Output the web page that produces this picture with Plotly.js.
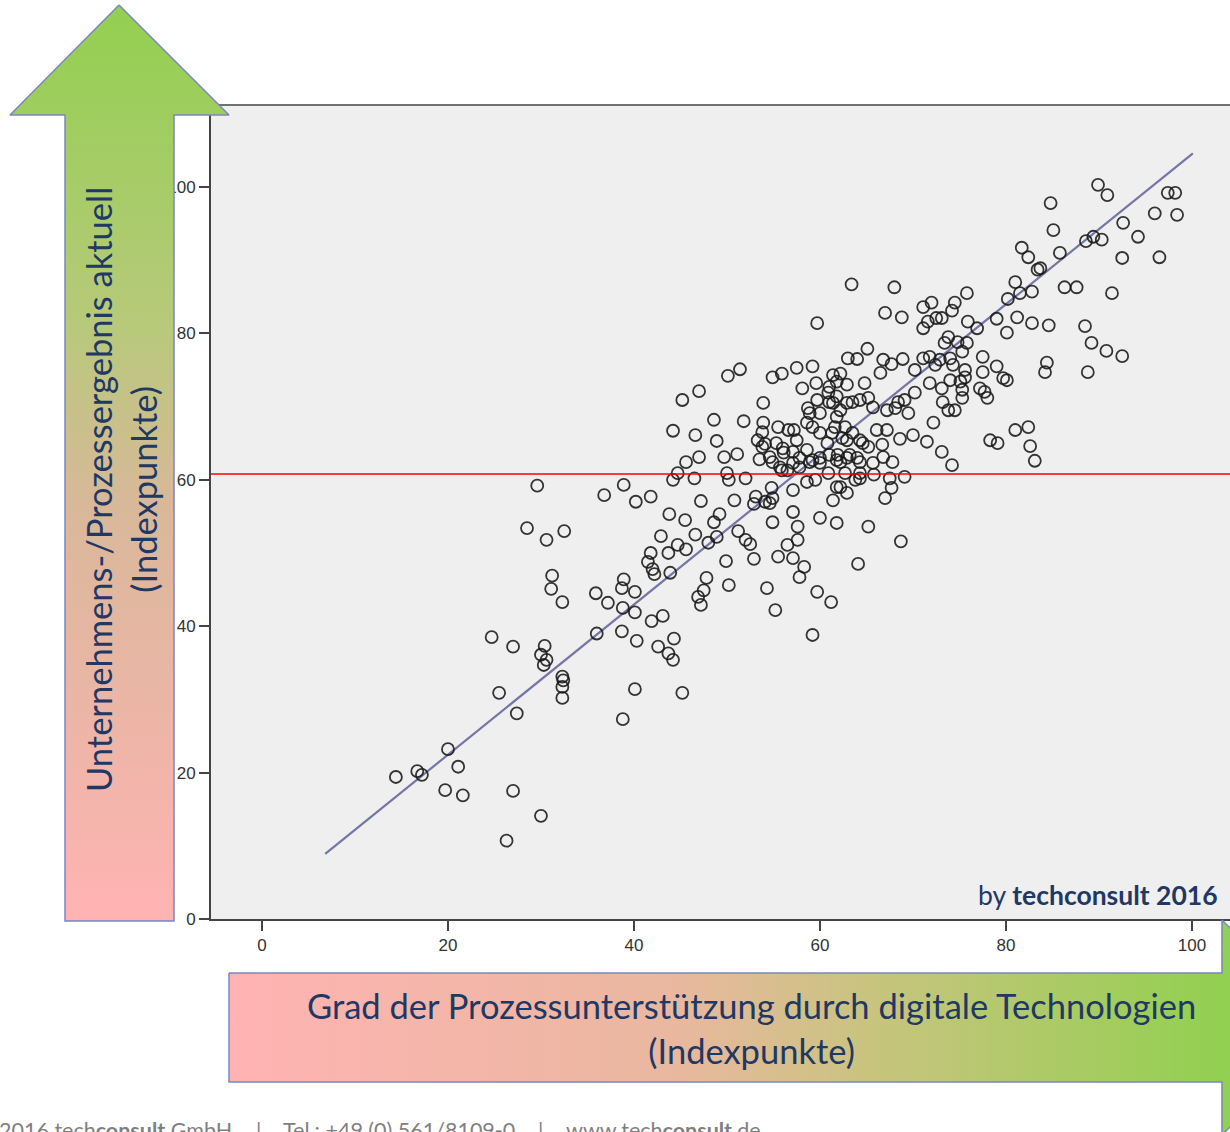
<!DOCTYPE html>
<html><head><meta charset="utf-8">
<script src="https://cdn.plot.ly/plotly-3.0.1.min.js"></script>
<style>html,body{margin:0;padding:0;background:#fff;overflow:hidden}#chart{width:1230px;height:1132px}</style>
</head><body><div id="chart"></div>
<script>
// ---- data (Indexpunkte) ----
const prozessX = [14.4,16.7,17.2,20.0,21.1,19.7,21.6,27.0,30.0,26.3,24.7,27.0,25.5,27.4,30.4,30.0,30.6,30.3,32.3,32.4,32.3,32.3,29.6,28.5,30.6,32.5,31.2,31.1,32.3,36.0,35.9,37.2,36.8,38.9,40.2,41.8,38.9,38.7,40.1,38.8,40.1,41.9,43.1,38.7,40.3,42.6,43.7,44.2,44.3,40.1,45.2,38.8,42.9,43.8,45.5,41.5,41.8,42.0,42.2,43.9,43.7,44.7,45.6,46.6,
51.4,50.1,47.0,45.2,53.9,48.6,51.8,44.2,46.6,48.9,53.9,53.8,53.3,54.1,53.5,51.1,49.7,47.0,45.6,44.7,44.2,46.5,50.0,50.2,52.0,47.2,50.8,53.1,52.9,49.2,48.6,48.0,48.9,51.2,52.0,52.5,52.9,49.9,47.8,50.2,46.9,47.2,47.5,54.3,
63.4,68.0,59.7,67.0,68.8,71.1,72.0,71.1,71.6,72.5,65.1,63.0,64.0,66.8,67.7,68.9,70.2,71.1,71.8,61.4,62.2,59.2,57.5,55.9,54.9,59.6,58.1,61.0,62.9,64.8,66.5,60.9,61.8,61.4,59.7,58.7,58.9,60.0,62.9,64.3,65.2,65.7,68.1,69.1,69.5,71.8,72.2,71.5,70.0,68.6,67.2,66.7,66.8,65.7,65.2,64.3,63.5,62.7,61.8,61.3,62.9,61.9,60.8,60.0,59.2,58.6,57.5,56.6,55.5,55.3,56.0,56.1,53.8,54.9,56.5,57.1,57.8,58.6,59.2,60.0,60.9,61.8,62.9,64.0,62.7,63.8,61.8,61.4,62.9,64.3,65.8,67.5,69.1,67.7,67.0,55.9,57.1,58.6,59.5,54.8,54.6,57.1,57.6,57.6,56.5,55.5,57.1,58.3,57.8,60.0,61.8,65.2,68.7,64.1,59.7,61.2,55.2,59.2,
61.8,61.0,62.2,63.5,67.2,68.4,57.2,61.6,62.4,64.6,66.1,67.8,64.3,62.2,55.7,54.6,57.1,58.9,60.0,61.0,62.2,63.2,64.3,57.8,54.9,54.1,54.9,
81.0,82.8,83.4,86.3,87.6,80.2,81.5,79.0,81.2,82.8,84.6,80.1,75.8,74.5,74.2,73.1,75.9,76.9,73.8,73.4,74.8,75.8,75.3,74.0,72.9,72.4,74.3,75.6,77.5,79.0,77.5,79.7,80.1,75.6,75.1,74.0,73.1,70.2,75.3,75.3,77.2,77.7,78.0,73.2,73.8,74.5,73.1,74.2,78.3,79.1,81.0,82.4,82.6,83.1,84.4,84.2,
89.9,90.9,84.8,85.1,97.4,98.2,96.0,98.4,92.6,94.2,89.4,90.3,88.6,85.8,81.7,82.4,92.5,96.5,83.7,91.4,88.5,89.2,90.8,92.5,88.8];
const ergebnisY = [19.4,20.2,19.7,23.2,20.8,17.6,16.9,17.5,14.1,10.7,38.5,37.2,30.9,28.1,37.3,36.1,35.4,34.7,33.1,32.6,31.7,30.2,59.2,53.4,51.8,53.0,46.9,45.1,43.3,39.0,44.5,43.2,57.9,59.3,57.0,57.7,46.4,45.2,44.7,42.5,41.9,40.7,41.4,39.3,38.0,37.2,36.3,35.4,38.3,31.4,30.9,27.3,52.3,55.3,54.5,48.8,50.0,47.8,47.1,47.3,50.0,51.1,50.5,52.5,
75.1,74.2,72.1,70.9,70.5,68.2,68.0,66.7,66.1,65.3,67.8,66.5,65.4,64.9,62.8,63.5,63.1,63.1,62.4,60.9,60.0,60.2,60.9,60.0,60.2,57.1,57.2,57.7,56.7,55.3,54.2,51.4,52.2,53.0,51.8,51.2,49.2,48.9,46.6,45.6,44.0,42.9,44.9,45.2,
86.7,86.3,81.4,82.8,82.2,83.6,84.2,80.7,81.6,82.1,77.9,76.6,76.5,76.4,75.8,76.5,75.0,76.6,76.8,74.3,74.5,75.5,75.3,74.5,74.0,73.2,72.5,72.7,73.0,73.2,74.6,71.9,71.4,70.5,70.9,69.8,69.1,69.1,70.5,70.9,71.2,69.9,69.8,70.9,69.1,73.2,67.8,65.2,66.1,65.6,66.8,64.8,63.1,62.3,64.5,65.4,66.4,67.2,68.6,66.4,65.4,63.4,65.0,66.4,67.2,67.8,65.4,66.8,67.2,65.0,64.3,63.7,64.5,62.4,61.3,62.3,63.0,64.1,62.7,62.3,60.9,62.7,63.0,63.0,60.9,60.0,59.0,57.2,58.2,60.9,60.7,60.2,60.4,58.9,57.5,61.3,58.6,59.7,60.0,58.9,56.8,55.6,53.6,51.8,51.1,49.5,49.3,48.1,46.7,54.8,54.1,53.6,51.6,48.5,44.7,43.3,42.2,38.8,
73.4,70.6,69.5,70.6,69.5,70.6,66.8,67.2,65.7,65.0,66.8,62.4,60.2,59.0,61.7,63.1,63.8,62.4,63.0,63.4,62.4,63.4,62.4,61.7,57.5,57.0,54.2,
87.0,85.7,88.7,86.3,86.3,84.7,85.5,82.0,82.2,81.4,81.1,80.1,85.5,84.2,83.1,82.1,81.6,80.7,79.5,78.7,78.8,78.7,77.5,76.6,76.4,75.7,75.7,75.0,76.8,75.5,74.7,73.9,73.6,74.0,73.4,73.6,72.5,71.9,72.3,71.2,72.5,72.0,71.2,70.6,69.5,69.5,63.8,62.0,65.4,65.0,66.8,67.2,64.6,62.6,76.0,74.7,
100.3,98.9,97.8,94.1,99.2,99.2,96.4,96.2,95.1,93.2,93.2,92.8,92.6,91.0,91.7,90.4,90.3,90.4,88.9,85.5,81.0,78.7,77.6,76.9,74.7];
const fitX = [6.8, 100.1];
const fitY = [8.9, 104.6];
const meanY = 60.8;
const tickVals = [0, 20, 40, 60, 80, 100];
const tickText = ['0', '20', '40', '60', '80', '100'];

// ---- page geometry ----
const W = 1230, H = 1132;
const plotL = 211, plotT = 105, plotB = 919;
const navy = '#1f3864';
const tickFont = {family: 'Liberation Sans, Arial, sans-serif', size: 17, color: '#333'};
const footFont = {family: 'Lato, sans-serif', size: 21.5, color: '#808080'};

// decorative arrows drawn on a full-page overlay subplot (page pixel units)
const upArrow = {x: [119, 229, 174, 174, 65, 65, 10, 119], y: [5, 115, 115, 921, 921, 115, 115, 5]};
const rightArrow = {x: [229, 1222, 1222, 1329, 1222, 1222, 229, 229], y: [973, 973, 920, 1027.5, 1135, 1082, 1082, 973]};

const traces = [
  {type: 'scatter', mode: 'lines', x: fitX, y: fitY, xaxis: 'x', yaxis: 'y',
   line: {color: '#7376a6', width: 2.2}, hoverinfo: 'skip'},
  {type: 'scatter', mode: 'markers', x: prozessX, y: ergebnisY, xaxis: 'x', yaxis: 'y',
   marker: {symbol: 'circle-open', size: 12, color: 'rgba(25,25,25,0.88)', line: {width: 1.8}}},
  {type: 'scatter', mode: 'lines', x: upArrow.x, y: upArrow.y, xaxis: 'x2', yaxis: 'y2',
   fill: 'toself', line: {color: '#7b86c2', width: 1.5},
   fillgradient: {type: 'vertical', start: 5, stop: 921, colorscale: [[0, '#92d050'], [0.35, '#b7c97a'], [0.55, '#d9b89a'], [1, '#ffb3b3']]},
   hoverinfo: 'skip'},
  {type: 'scatter', mode: 'lines', x: rightArrow.x, y: rightArrow.y, xaxis: 'x2', yaxis: 'y2',
   fill: 'toself', line: {color: '#7b86c2', width: 1.5},
   fillgradient: {type: 'horizontal', start: 229, stop: 1222, colorscale: [[0, '#ffb3b3'], [0.45, '#e9b89f'], [0.65, '#c8c47e'], [1, '#92d050']]},
   hoverinfo: 'skip'}
];

const layout = {
  width: W, height: H, margin: {l: 0, r: 0, t: 0, b: 0},
  paper_bgcolor: '#ffffff', plot_bgcolor: 'rgba(0,0,0,0)', showlegend: false,
  xaxis: {domain: [plotL / W, 1], range: [-5.48, 104.09], anchor: 'y', tickvals: tickVals, ticktext: tickText,
          ticks: 'outside', ticklen: 10, tickwidth: 2, tickcolor: '#444', showline: true, linecolor: '#444', linewidth: 2,
          showgrid: false, zeroline: false, tickfont: tickFont, fixedrange: true},
  yaxis: {domain: [1 - plotB / H, 1 - plotT / H], range: [0, 111.2], anchor: 'x', tickvals: tickVals, ticktext: tickText,
          ticks: 'outside', ticklen: 10, tickwidth: 2, tickcolor: '#444', showline: true, linecolor: '#444', linewidth: 2,
          showgrid: false, zeroline: false, tickfont: tickFont, fixedrange: true},
  xaxis2: {domain: [0, 1], range: [0, W], visible: false, anchor: 'y2', fixedrange: true},
  yaxis2: {domain: [0, 1], range: [H, 0], visible: false, anchor: 'x2', fixedrange: true},
  shapes: [
    {type: 'rect', xref: 'x domain', yref: 'y domain', x0: 0, x1: 1, y0: 0, y1: 1, layer: 'below',
     fillcolor: '#efefef', line: {width: 0}},
    {type: 'line', xref: 'x domain', yref: 'y domain', x0: 0, x1: 1, y0: 1, y1: 1, layer: 'below',
     line: {color: '#707070', width: 2}},
    {type: 'line', xref: 'x domain', yref: 'y', x0: 0, x1: 1, y0: meanY, y1: meanY, layer: 'above',
     line: {color: '#ff0000', width: 1.5}}
  ],
  annotations: [
    {text: 'Unternehmens-/Prozessergebnis aktuell<br>(Indexpunkte)', textangle: -90, xref: 'paper', yref: 'paper',
     x: 121 / W, y: 1 - 490 / H, xanchor: 'center', yanchor: 'middle', showarrow: false,
     font: {family: 'Lato, sans-serif', size: 34.5, color: navy}},
    {text: 'Grad der Prozessunterstützung durch digitale Technologien<br>(Indexpunkte)', xref: 'paper', yref: 'paper',
     x: 752 / W, y: 1 - 1028 / H, xanchor: 'center', yanchor: 'middle', showarrow: false,
     font: {family: 'Lato, sans-serif', size: 34.5, color: navy}},
    {text: 'by <b>techconsult 2016</b>', xref: 'paper', yref: 'paper', x: 1220 / W, y: 1 - 895 / H,
     xanchor: 'right', yanchor: 'middle', showarrow: false, font: {family: 'Lato, sans-serif', size: 26.5, color: navy}},
    {text: '2016 tech<b>consult</b> GmbH', xref: 'paper', yref: 'paper', x: -3 / W, y: 1 - 1115 / H,
     xanchor: 'left', yanchor: 'top', showarrow: false, font: footFont},
    {text: '|', xref: 'paper', yref: 'paper', x: 258 / W, y: 1 - 1115 / H,
     xanchor: 'center', yanchor: 'top', showarrow: false, font: footFont},
    {text: 'Tel.: +49 (0) 561/8109-0', xref: 'paper', yref: 'paper', x: 281 / W, y: 1 - 1115 / H,
     xanchor: 'left', yanchor: 'top', showarrow: false, font: footFont},
    {text: '|', xref: 'paper', yref: 'paper', x: 540 / W, y: 1 - 1115 / H,
     xanchor: 'center', yanchor: 'top', showarrow: false, font: footFont},
    {text: 'www.tech<b>consult</b>.de', xref: 'paper', yref: 'paper', x: 564 / W, y: 1 - 1115 / H,
     xanchor: 'left', yanchor: 'top', showarrow: false, font: footFont}
  ]
};

Plotly.newPlot('chart', traces, layout, {displayModeBar: false, staticPlot: true});
</script>
</body></html>
